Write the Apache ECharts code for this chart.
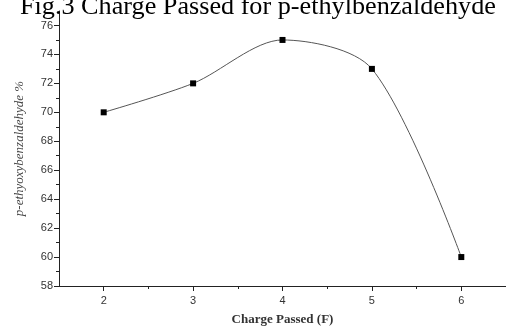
<!DOCTYPE html>
<html lang="en">
<head>
    <meta charset="UTF-8">
    <title>Fig.3 Charge Passed</title>
    <script src="https://cdn.jsdelivr.net/npm/echarts@6/dist/echarts.min.js"></script>
    <style>
        html, body { margin: 0; padding: 0; background: #fff; }
    </style>
</head>
<body>
 <div id="myChart" style="width: 506px;height: 331px;"></div>
 <script>
     // data
     var chargePassed = [2, 3, 4, 5, 6];
     var yieldPct = [70, 72, 75, 73, 60];
     var xMajorTicks = [2, 3, 4, 5, 6];
     var xMinorTicks = [2.5, 3.5, 4.5, 5.5];
     var yMajorTicks = [58, 60, 62, 64, 66, 68, 70, 72, 74, 76];
     var yMinorTicks = [59, 61, 63, 65, 67, 69, 71, 73, 75];

     var points = chargePassed.map(function (x, i) { return [x, yieldPct[i]]; });

     var labelStyle = { fontFamily: 'Liberation Sans', fontSize: 11, color: '#333' };

     option = {
         animation: false,
         title: {
             text: 'Fig.3 Charge Passed for p-ethylbenzaldehyde',
             left: 15,
             top: -11,
             textStyle: { fontFamily: 'Liberation Serif', fontSize: 26.2, fontWeight: 'normal', color: '#000' }
         },
         grid: { left: 59, right: 0, top: 11, bottom: 39, containLabel: false },
         xAxis: [
             { // axis line + minor ticks
                 type: 'value', min: 1.5, max: 6.5, position: 'bottom',
                 axisLine: { show: true, lineStyle: { color: '#222', width: 1 } },
                 axisTick: { show: true, length: 3, customValues: xMinorTicks, lineStyle: { color: '#222' } },
                 axisLabel: { show: false },
                 splitLine: { show: false },
                 name: 'Charge Passed (F)',
                 nameLocation: 'middle',
                 nameGap: 27,
                 nameTextStyle: { fontFamily: 'Liberation Serif', fontSize: 13, fontWeight: 'bold', color: '#333' }
             },
             { // major ticks + labels
                 type: 'value', min: 1.5, max: 6.5, position: 'bottom',
                 axisLine: { show: false },
                 axisTick: { show: true, length: 5, customValues: xMajorTicks, lineStyle: { color: '#222' } },
                 axisLabel: Object.assign({ customValues: xMajorTicks, margin: 9 }, labelStyle),
                 splitLine: { show: false }
             }
         ],
         yAxis: [
             {
                 type: 'value', min: 58, max: 77, position: 'left',
                 axisLine: { show: true, lineStyle: { color: '#222', width: 1 } },
                 axisTick: { show: true, length: 3, customValues: yMinorTicks, lineStyle: { color: '#222' } },
                 axisLabel: { show: false },
                 splitLine: { show: false },
                 name: 'p-ethyoxybenzaldehyde %',
                 nameLocation: 'middle',
                 nameGap: 33,
                 nameTextStyle: { fontFamily: 'Liberation Serif', fontSize: 13, fontStyle: 'italic', color: '#444' }
             },
             {
                 type: 'value', min: 58, max: 77, position: 'left',
                 axisLine: { show: false },
                 axisTick: { show: true, length: 5, customValues: yMajorTicks, lineStyle: { color: '#222' } },
                 axisLabel: Object.assign({ customValues: yMajorTicks, margin: 6 }, labelStyle),
                 splitLine: { show: false }
             }
         ],
         series: [
             {
                 type: 'line',
                 xAxisIndex: 0,
                 yAxisIndex: 0,
                 data: points,
                 smooth: 0.3,
                 symbol: 'rect',
                 symbolSize: 6,
                 itemStyle: { color: '#000' },
                 lineStyle: { color: '#555', width: 1 }
             }
         ]
     };
     var myChart = echarts.init(document.getElementById('myChart'));
     myChart.setOption(option);
 </script>
</body>
</html>
